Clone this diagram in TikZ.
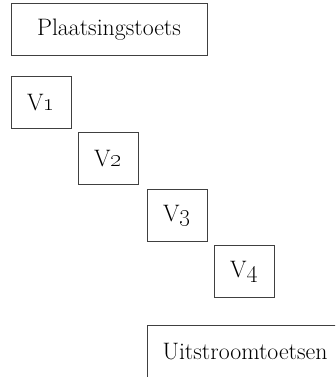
\documentclass[tikz,border=0pt]{standalone}
\begin{document}
\begin{tikzpicture}[x=1pt,y=1pt,
  box/.style={draw=black!75, line width=1pt, inner sep=0pt, text=black,
    minimum height=52pt, font=\fontsize{23.8}{28}\selectfont},
  wide/.style={box, minimum width=196pt},
  small/.style={box, minimum width=60pt}]
\useasboundingbox (0,0) rectangle (335,377);
\clip (0,0) rectangle (335,377);
\node[wide]  (plaats) at (109,347) {Plaatsingstoets};
\node[small] (v1) at (41,274)  {V\oldstylenums{1}};
\node[small] (v2) at (108,218) {V\oldstylenums{2}};
\node[small] (v3) at (177,161) {V\oldstylenums{3}};
\node[small] (v4) at (244,105) {V\oldstylenums{4}};
\node[wide]  (uit) at (245,25) {Uitstroomtoetsen};
\end{tikzpicture}
\end{document}
